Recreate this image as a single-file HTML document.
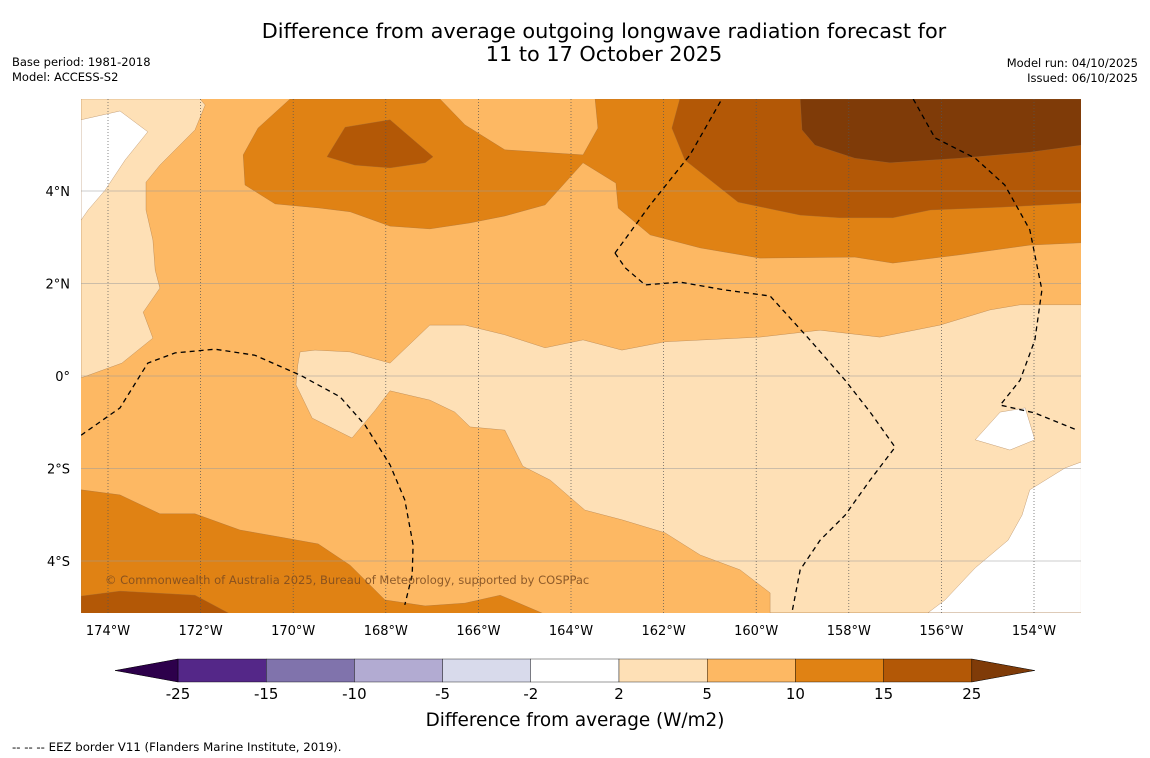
<!DOCTYPE html>
<html><head><meta charset="utf-8">
<style>
html,body{margin:0;padding:0;background:#fff;width:1150px;height:758px;overflow:hidden;font-family:"DejaVu Sans","Liberation Sans",sans-serif;}
svg{display:block}
</style></head>
<body>
<svg id="chart" width="1150" height="758" viewBox="0 0 1150 758" xmlns="http://www.w3.org/2000/svg">
<text x="604" y="38" text-anchor="middle" font-size="20.8" fill="#000">Difference from average outgoing longwave radiation forecast for</text>
<text x="604" y="61" text-anchor="middle" font-size="20.8" fill="#000">11 to 17 October 2025</text>
<text x="12" y="66" font-size="11.5">Base period: 1981-2018</text>
<text x="12" y="81" font-size="11.5">Model: ACCESS-S2</text>
<text x="1138" y="67" font-size="11.5" text-anchor="end">Model run: 04/10/2025</text>
<text x="1138" y="82" font-size="11.5" text-anchor="end">Issued: 06/10/2025</text>
<defs><clipPath id="mapclip"><rect x="81" y="99" width="1000" height="514"/></clipPath></defs>
<g id="map" clip-path="url(#mapclip)"></g>
<g id="axes"></g>
<g id="cbar"></g>
<text x="575" y="726" text-anchor="middle" font-size="18.4">Difference from average (W/m2)</text>
<text x="12" y="751" font-size="11.75">--  --  -- EEZ border V11 (Flanders Marine Institute, 2019).</text>
</svg>
<script>
const lonTicks=[-174,-172,-170,-168,-166,-164,-162,-160,-158,-156,-154];
const latTicks=[4,2,0,-2,-4];
const cbLevels=[-25,-15,-10,-5,-2,2,5,10,15,25];
const cbColors=["#542788","#8073ac","#b2abd2","#d8daeb","#ffffff","#fee0b6","#fdb863","#e08214","#b35806"];
const lightWest=[[-174.58,5.99],[-172.01,5.99],[-171.9,5.86],[-172.12,5.32],[-172.88,4.56],[-173.18,4.19],[-173.18,3.59],[-173.03,2.94],[-172.98,2.29],[-172.88,1.9],[-173.24,1.38],[-173.03,0.82],[-173.7,0.28],[-174.58,-0.04]];
const whiteWest=[[-174.58,5.54],[-173.74,5.73],[-173.14,5.28],[-173.63,4.67],[-174.06,4.02],[-174.43,3.59],[-174.58,3.37]];
const lightCentral=[[-169.85,0.52],[-169.53,0.56],[-168.77,0.52],[-167.91,0.28],[-167.05,1.1],[-166.29,1.1],[-165.43,0.89],[-164.56,0.61],[-163.74,0.78],[-162.9,0.56],[-161.97,0.74],[-159.92,0.84],[-158.62,0.99],[-157.33,0.84],[-156.03,1.1],[-154.95,1.43],[-154.3,1.54],[-152.98,1.54],[-152.98,-5.12],[-159.7,-5.12],[-159.7,-4.69],[-160.35,-4.19],[-161.21,-3.87],[-161.97,-3.39],[-162.9,-3.11],[-163.7,-2.9],[-164.45,-2.25],[-165.04,-1.95],[-165.43,-1.17],[-166.18,-1.1],[-166.51,-0.78],[-167.05,-0.52],[-167.91,-0.32],[-168.23,-0.74],[-168.73,-1.34],[-169.59,-0.91],[-169.94,-0.19],[-169.9,0.24]];
const whiteEast=[[-155.27,-1.38],[-154.73,-0.78],[-154.19,-0.69],[-153.98,-1.38],[-154.52,-1.6]];
const whiteSE=[[-156.29,-5.12],[-155.92,-4.84],[-155.27,-4.15],[-154.56,-3.55],[-154.26,-3.01],[-154.09,-2.46],[-153.33,-1.99],[-152.98,-1.86],[-152.98,-5.12]];
const orangeNorth=[[-170.07,5.99],[-166.83,5.99],[-166.29,5.43],[-165.43,4.89],[-163.74,4.78],[-163.42,5.36],[-163.48,5.99],[-152.98,5.99],[-152.98,2.88],[-154.09,2.83],[-155.6,2.62],[-157.05,2.44],[-157.87,2.57],[-159.92,2.55],[-161.21,2.77],[-162.29,3.05],[-162.98,3.63],[-163.03,4.17],[-163.74,4.61],[-164.56,3.7],[-165.43,3.46],[-166.18,3.31],[-167.05,3.18],[-167.91,3.24],[-168.77,3.55],[-169.42,3.63],[-170.39,3.72],[-171.04,4.13],[-171.08,4.78],[-170.76,5.36]];
const darkNE=[[-161.65,5.99],[-152.98,5.99],[-152.98,3.74],[-154.73,3.65],[-156.24,3.59],[-157.05,3.42],[-158.19,3.42],[-159.05,3.48],[-160.39,3.76],[-161.54,4.67],[-161.82,5.36]];
const darkestNE=[[-159.05,5.99],[-152.98,5.99],[-152.98,4.99],[-154.09,4.84],[-155.6,4.71],[-157.11,4.61],[-157.87,4.71],[-158.73,4.99],[-159.01,5.32]];
const darkNW=[[-169.27,4.74],[-168.88,5.38],[-167.91,5.54],[-166.98,4.74],[-167.15,4.61],[-167.91,4.5],[-168.67,4.56]];
const orangeSW=[[-174.58,-2.46],[-173.74,-2.57],[-172.88,-2.98],[-172.12,-2.98],[-171.15,-3.33],[-170.29,-3.48],[-169.46,-3.63],[-168.77,-4.09],[-168.02,-4.84],[-167.15,-4.97],[-166.29,-4.91],[-165.53,-4.74],[-164.45,-5.2],[-174.58,-5.2]];
const darkSW=[[-174.58,-4.76],[-173.74,-4.65],[-172.12,-4.74],[-171.26,-5.2],[-174.58,-5.2]];
const eezWest=[[-174.58,-1.28],[-173.74,-0.69],[-173.14,0.28],[-172.55,0.5],[-171.69,0.58],[-170.83,0.45],[-169.85,0.02],[-168.99,-0.45],[-168.45,-1.06],[-167.91,-1.92],[-167.59,-2.68],[-167.41,-3.65],[-167.43,-4.3],[-167.59,-4.95]];
const eezMidN=[[-163.05,2.66],[-162.29,3.7],[-161.43,4.78],[-160.74,5.99]];
const eezMidS=[[-163.05,2.66],[-162.83,2.34],[-162.4,1.97],[-161.65,2.03],[-160.67,1.86],[-159.7,1.73],[-158.84,0.78],[-158.08,-0.09],[-157.54,-0.78],[-157.0,-1.54],[-157.54,-2.25],[-158.08,-3.01],[-158.62,-3.55],[-159.05,-4.19],[-159.23,-5.12]];
const eezEast=[[-156.61,5.99],[-156.14,5.15],[-155.27,4.71],[-154.63,4.13],[-154.09,3.16],[-153.83,1.86],[-153.98,0.78],[-154.3,-0.09],[-154.73,-0.63],[-153.98,-0.8],[-153.07,-1.17]];

const NS="http://www.w3.org/2000/svg";
const X=lon=>108+(lon+174)*46.3;
const Y=lat=>376-lat*46.25;
function mk(tag,parent){const e=document.createElementNS(NS,tag);parent.appendChild(e);return e;}
const pts=a=>a.map(p=>X(p[0]).toFixed(1)+","+Y(p[1]).toFixed(1)).join(" ");
const map=document.getElementById("map");
const bg=mk("rect",map);
bg.setAttribute("x",81);bg.setAttribute("y",99);bg.setAttribute("width",1000);bg.setAttribute("height",514);bg.setAttribute("fill","#fdb863");


const layers=[["contour-light-west",lightWest,"#fee0b6"],["contour-white-west",whiteWest,"#ffffff"],["contour-light-central",lightCentral,"#fee0b6"],["contour-white-east",whiteEast,"#ffffff"],["contour-white-southeast",whiteSE,"#ffffff"],["contour-orange-north",orangeNorth,"#e08214"],["contour-dark-northeast",darkNE,"#b35806"],["contour-darkest-northeast",darkestNE,"#7f3b08"],["contour-dark-northwest",darkNW,"#b35806"],["contour-orange-southwest",orangeSW,"#e08214"],["contour-dark-southwest",darkSW,"#b35806"]];
layers.forEach(l=>{const p=mk("polygon",map);p.setAttribute("points",pts(l[1]));p.setAttribute("fill",l[2]);p.setAttribute("stroke","#9a6a3a");p.setAttribute("stroke-width","0.3");

});
const ax=document.getElementById("axes");
latTicks.forEach(t=>{const l=mk("line",map);l.setAttribute("x1",81);l.setAttribute("x2",1081);l.setAttribute("y1",Y(t));l.setAttribute("y2",Y(t));l.setAttribute("stroke","#999");l.setAttribute("stroke-width","0.6");


const tx=mk("text",ax);tx.setAttribute("x",70);tx.setAttribute("y",Y(t)+5);tx.setAttribute("text-anchor","end");tx.setAttribute("font-size","13");
tx.textContent=t===0?"0°":Math.abs(t)+"°"+(t>0?"N":"S");

});
lonTicks.forEach(t=>{const l=mk("line",map);l.setAttribute("x1",X(t));l.setAttribute("x2",X(t));l.setAttribute("y1",99);l.setAttribute("y2",613);l.setAttribute("stroke","#555");l.setAttribute("stroke-width","0.7");l.setAttribute("stroke-dasharray","1,2");


const tx=mk("text",ax);tx.setAttribute("x",X(t));tx.setAttribute("y",635);tx.setAttribute("text-anchor","middle");tx.setAttribute("font-size","13");
tx.textContent=Math.abs(t)+"°W";

});
[["eez-border-west",eezWest],["eez-border-mid-north",eezMidN],["eez-border-mid-south",eezMidS],["eez-border-east",eezEast]].forEach(e=>{const p=mk("polyline",map);p.setAttribute("points",pts(e[1]));p.setAttribute("fill","none");p.setAttribute("stroke","#000");p.setAttribute("stroke-width","1.3");p.setAttribute("stroke-dasharray","5,4");

});
const cp=mk("text",map);cp.setAttribute("x",105);cp.setAttribute("y",584);cp.setAttribute("font-size","11.5");cp.setAttribute("fill","#7a4a20");cp.setAttribute("fill-opacity","0.85");
cp.textContent="© Commonwealth of Australia 2025, Bureau of Meteorology, supported by COSPPac";


const cb=document.getElementById("cbar");
const cbX=v=>178+cbLevels.indexOf(v)*88.2;
cbColors.forEach((c,i)=>{const r=mk("rect",cb);const x0=cbX(cbLevels[i]),x1=cbX(cbLevels[i+1]);r.setAttribute("x",x0);r.setAttribute("y",659);r.setAttribute("width",x1-x0);r.setAttribute("height",23);r.setAttribute("fill",c);r.setAttribute("stroke","#000");r.setAttribute("stroke-width","0.4");

});
const lt=mk("polygon",cb);lt.setAttribute("points",`115,670.5 178,659 178,682`);lt.setAttribute("fill","#2d004b");lt.setAttribute("stroke","#000");lt.setAttribute("stroke-width","0.5");


const rt=mk("polygon",cb);const xe=cbX(25);rt.setAttribute("points",`${xe},659 ${xe+63},670.5 ${xe},682`);rt.setAttribute("fill","#7f3b08");rt.setAttribute("stroke","#000");rt.setAttribute("stroke-width","0.5");


cbLevels.forEach(v=>{const t=mk("text",cb);t.setAttribute("x",cbX(v));t.setAttribute("y",699);t.setAttribute("text-anchor","middle");t.setAttribute("font-size","15");t.textContent=v;

});
</script>
</body></html>
